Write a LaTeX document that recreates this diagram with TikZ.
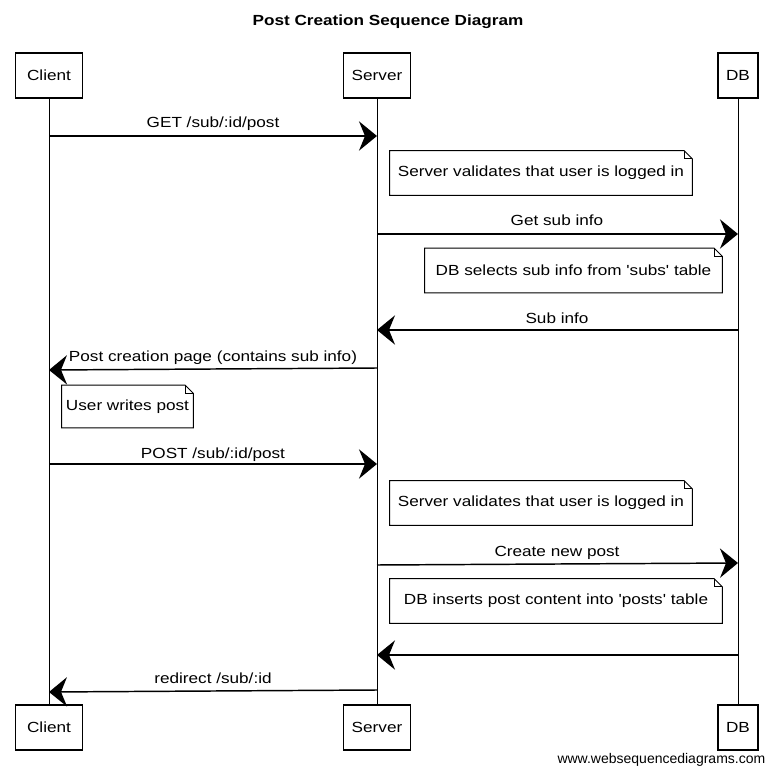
\documentclass[tikz,border=0pt]{standalone}
\usepackage{fontspec}
\setmainfont{Liberation Sans}[FakeStretch=1.17,Ligatures=TeXOff]
\newfontfamily\footfont{Liberation Sans}
\usetikzlibrary{arrows.meta}
\tikzset{
  px/.style={x=0.75pt,y=-0.75pt},
  actor/.style={draw,line width=0.9pt,minimum height=33.75pt,inner sep=0pt,font=\fontsize{11}{13}\selectfont},
  life/.style={line width=0.75pt},
  msg/.style={line width=1.1pt,-{Stealth[length=13.5pt,width=22pt,inset=4.5pt]}},
  lbl/.style={font=\fontsize{11}{13}\selectfont,inner sep=0pt,anchor=base},
  notetext/.style={font=\fontsize{11}{13}\selectfont,inner sep=0pt},
  noteline/.style={line width=0.75pt},
}
\newcommand{\notebox}[1]{%
  \draw[noteline] (#1.north west) -- ([xshift=-6pt]#1.north east) -- ([yshift=-6pt]#1.north east) -- (#1.south east) -- (#1.south west) -- cycle;
  \draw[noteline] ([xshift=-6pt]#1.north east) -- ([xshift=-6pt,yshift=-6pt]#1.north east) -- ([yshift=-6pt]#1.north east);
}
\begin{document}
\begin{tikzpicture}[px]
\useasboundingbox (0,0) rectangle (776,774);
% title
\node[font=\bfseries\fontsize{11}{13}\selectfont] (title) at (388,22) {Post Creation Sequence Diagram};
% participants
\node[actor,minimum width=50pt] (ct) at (49,75.5) {Client};
\node[actor,minimum width=50pt] (st) at (377,75.5) {Server};
\node[actor,minimum width=30pt] (dt) at (738,75.5) {DB};
\node[actor,minimum width=50pt] (cb) at (49,727.5) {Client};
\node[actor,minimum width=50pt] (sb) at (377,727.5) {Server};
\node[actor,minimum width=30pt] (db) at (738,727.5) {DB};
% lifelines
\draw[life] (ct) -- (cb);
\draw[life] (st) -- (sb);
\draw[life] (dt) -- (db);
% message anchor points
\coordinate (c1) at (49,136);   \coordinate (s1) at (377,136);
\coordinate (s2) at (377,234);  \coordinate (d2) at (738,234);
\coordinate (d3) at (738,330);  \coordinate (s3) at (377,330);
\coordinate (s4) at (377,368);  \coordinate (c4) at (49,370);
\coordinate (c5) at (49,464);   \coordinate (s5) at (377,464);
\coordinate (s6) at (377,565);  \coordinate (d6) at (738,563);
\coordinate (d7) at (738,655);  \coordinate (s7) at (377,655);
\coordinate (s8) at (377,690);  \coordinate (c8) at (49,692);
% messages
\draw[msg] (c1) -- (s1);
\node[lbl] (l1) at (213,128) {GET /sub/:id/post};
\draw[msg] (s2) -- (d2);
\node[lbl] (l2) at (557,226) {Get sub info};
\draw[msg] (d3) -- (s3);
\node[lbl] (l3) at (557,323) {Sub info};
\draw[msg] (s4) -- (c4);
\node[lbl] (l4) at (213,361) {Post creation page (contains sub info)};
\draw[msg] (c5) -- (s5);
\node[lbl] (l5) at (213,458) {POST /sub/:id/post};
\draw[msg] (s6) -- (d6);
\node[lbl] (l6) at (557,556) {Create new post};
\draw[msg] (d7) -- (s7);
\draw[msg] (s8) -- (c8);
\node[lbl] (l8) at (213,683) {redirect /sub/:id};
% notes
\node[notetext,minimum width=226.5pt,minimum height=33pt] (n1) at (541,173) {Server validates that user is logged in};
\notebox{n1}
\node[notetext,minimum width=222.75pt,minimum height=33pt] (n2) at (573.5,270.5) {DB selects sub info from 'subs' table};
\notebox{n2}
\node[notetext,minimum width=98.25pt,minimum height=31.5pt] (n3) at (127.5,406.5) {User writes post};
\notebox{n3}
\node[notetext,minimum width=226.5pt,minimum height=33pt] (n4) at (541,503) {Server validates that user is logged in};
\notebox{n4}
\node[notetext,minimum width=249pt,minimum height=33pt] (n5) at (556,601) {DB inserts post content into 'posts' table};
\notebox{n5}
% footer
\node[font=\footfont\fontsize{10.5}{12}\selectfont,anchor=east] (foot) at (770,760) {www.websequencediagrams.com};
\end{tikzpicture}
\end{document}
